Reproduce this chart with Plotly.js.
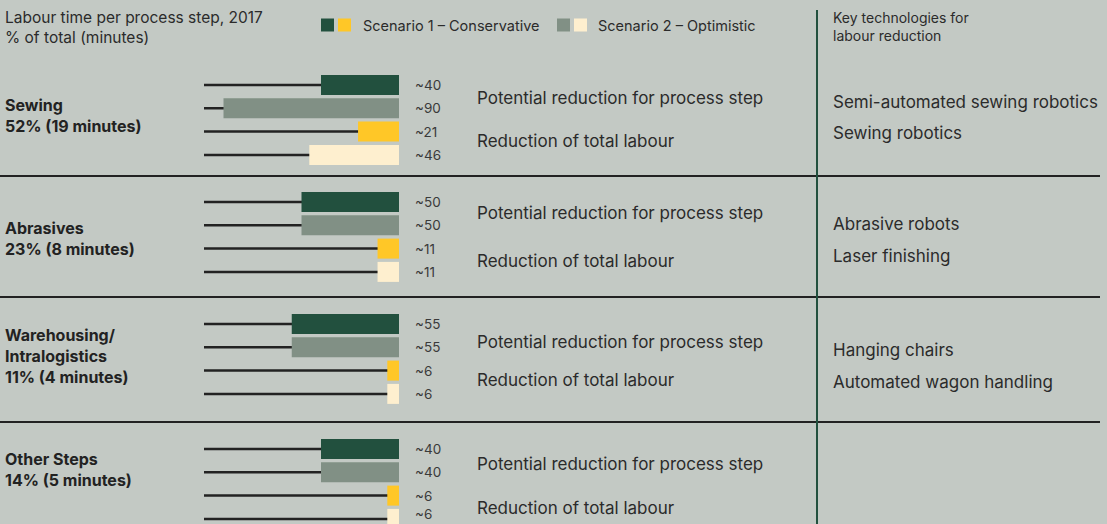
<!DOCTYPE html>
<html>
<head>
<meta charset="utf-8">
<script src="https://cdn.plot.ly/plotly-3.0.1.min.js"></script>
<style>
  html, body { margin: 0; padding: 0; background: #c3c9c4; }
  #chart { width: 1107px; height: 524px; }
</style>
</head>
<body>
<div id="chart"></div>
<script>
// data
var steps = ['Sewing', 'Abrasives', 'Warehousing/<br>Intralogistics', 'Other Steps'];
var stepShares = ['52% (19 minutes)', '23% (8 minutes)', '11% (4 minutes)', '14% (5 minutes)'];
var s1Step = [40, 50, 55, 40];   // scenario 1, reduction for process step
var s2Step = [90, 50, 55, 40];   // scenario 2, reduction for process step
var s1Total = [21, 11, 6, 6];    // scenario 1, reduction of total labour
var s2Total = [46, 11, 6, 6];    // scenario 2, reduction of total labour
var technologies = [
  ['Semi-automated sewing robotics', 'Sewing robotics'],
  ['Abrasive robots', 'Laser finishing'],
  ['Hanging chairs', 'Automated wagon handling'],
  []
];

var W = 1107, H = 524;
var dark = '#22503e', grey = '#819085', yellow = '#ffc727', cream = '#feefcf';
var bg = '#c3c9c4', ink = '#2b2b2b';
var font = 'Inter, "Noto Sans", sans-serif';

// layout: y axis is in pixels from the top
var firstRow = [85, 202, 324, 449];
var rowGap = 23.3;
var labelY = [115, 238, 356, 469];
var sepY = [176, 297, 422];
var midLabelY = [[98, 141], [213, 261], [342, 380], [464, 508]];
var techY = [[102, 133], [224, 256], [350, 382], []];

function px(x) { return x / W; }

var series = [s1Step, s2Step, s1Total, s2Total];
var colors = [dark, grey, yellow, cream];

var traces = [];
// background track lines (0..100) behind every bar
var trackY = [], trackX = [];
for (var g = 0; g < steps.length; g++) {
  for (var r = 0; r < 4; r++) {
    trackY.push(firstRow[g] + r * rowGap);
    trackX.push(100);
  }
}
traces.push({
  type: 'bar', orientation: 'h', x: trackX, y: trackY, width: 2.5,
  marker: { color: '#222' }, hoverinfo: 'skip', showlegend: false
});

var annotations = [];
for (var s = 0; s < 4; s++) {
  var ys = [], xs = [];
  for (var g2 = 0; g2 < steps.length; g2++) {
    var yy = firstRow[g2] + s * rowGap;
    ys.push(yy);
    xs.push(series[s][g2]);
    annotations.push({
      xref: 'paper', yref: 'y', x: px(413), y: Math.min(yy, 514), xanchor: 'left', yanchor: 'middle',
      text: '~' + series[s][g2], showarrow: false,
      font: { family: font, size: 13.5, color: '#3a3a3a' }
    });
  }
  traces.push({
    type: 'bar', orientation: 'h', x: xs, y: ys, width: 20,
    marker: { color: colors[s] }, showlegend: false
  });
}

// group labels, middle labels, technologies
for (var g3 = 0; g3 < steps.length; g3++) {
  annotations.push({
    xref: 'paper', yref: 'y', x: px(3), y: labelY[g3], xanchor: 'left', yanchor: 'middle', align: 'left',
    text: '<b>' + steps[g3].replace('<br>', '</b><br><b>') + '</b><br><b>' + stepShares[g3] + '</b>',
    showarrow: false, font: { family: font, size: 16, color: '#222' }
  });
  annotations.push({
    xref: 'paper', yref: 'y', x: px(475), y: midLabelY[g3][0], xanchor: 'left', yanchor: 'middle',
    text: 'Potential reduction for process step', showarrow: false,
    font: { family: font, size: 17, color: ink }
  });
  annotations.push({
    xref: 'paper', yref: 'y', x: px(475), y: midLabelY[g3][1], xanchor: 'left', yanchor: 'middle',
    text: 'Reduction of total labour', showarrow: false,
    font: { family: font, size: 17, color: ink }
  });
  for (var t = 0; t < technologies[g3].length; t++) {
    annotations.push({
      xref: 'paper', yref: 'y', x: px(831), y: techY[g3][t], xanchor: 'left', yanchor: 'middle',
      text: technologies[g3][t], showarrow: false,
      font: { family: font, size: 17, color: ink }
    });
  }
}

// header texts
annotations.push({
  xref: 'paper', yref: 'y', x: px(3), y: 27, xanchor: 'left', yanchor: 'middle', align: 'left',
  text: 'Labour time per process step, 2017<br>% of total (minutes)', showarrow: false,
  font: { family: font, size: 15.5, color: ink }
});
annotations.push({
  xref: 'paper', yref: 'y', x: px(361), y: 25, xanchor: 'left', yanchor: 'middle',
  text: 'Scenario 1 – Conservative', showarrow: false,
  font: { family: font, size: 14.5, color: ink }
});
annotations.push({
  xref: 'paper', yref: 'y', x: px(596), y: 25, xanchor: 'left', yanchor: 'middle',
  text: 'Scenario 2 – Optimistic', showarrow: false,
  font: { family: font, size: 14.5, color: ink }
});
annotations.push({
  xref: 'paper', yref: 'y', x: px(831), y: 26, xanchor: 'left', yanchor: 'middle', align: 'left',
  text: 'Key technologies for<br>labour reduction', showarrow: false,
  font: { family: font, size: 14, color: ink }
});

var shapes = [];
// legend squares
[[321, dark], [338, yellow], [557, grey], [574, cream]].forEach(function (q) {
  shapes.push({
    type: 'rect', xref: 'paper', yref: 'y', x0: px(q[0]), x1: px(q[0] + 13), y0: 18.5, y1: 31.5,
    fillcolor: q[1], line: { width: 0 }
  });
});
// separators
sepY.forEach(function (y) {
  shapes.push({
    type: 'line', xref: 'paper', yref: 'y', x0: 0, x1: px(1100), y0: y, y1: y,
    line: { color: '#222', width: 2 }
  });
});
// vertical divider
shapes.push({
  type: 'line', xref: 'paper', yref: 'y', x0: px(817), x1: px(817), y0: 10, y1: 524,
  line: { color: dark, width: 2 }
});

var layout = {
  width: W, height: H,
  margin: { l: 0, r: 0, t: 0, b: 0 },
  paper_bgcolor: bg, plot_bgcolor: 'rgba(0,0,0,0)',
  barmode: 'overlay',
  showlegend: false,
  xaxis: {
    domain: [px(204), px(399)], range: [100, 0],
    showgrid: false, zeroline: false, showticklabels: false, showline: false, fixedrange: true
  },
  yaxis: {
    domain: [0, 1], range: [H, 0],
    showgrid: false, zeroline: false, showticklabels: false, showline: false, fixedrange: true
  },
  annotations: annotations,
  shapes: shapes
};

Plotly.newPlot('chart', traces, layout, { displayModeBar: false, staticPlot: true });
</script>
</body>
</html>
